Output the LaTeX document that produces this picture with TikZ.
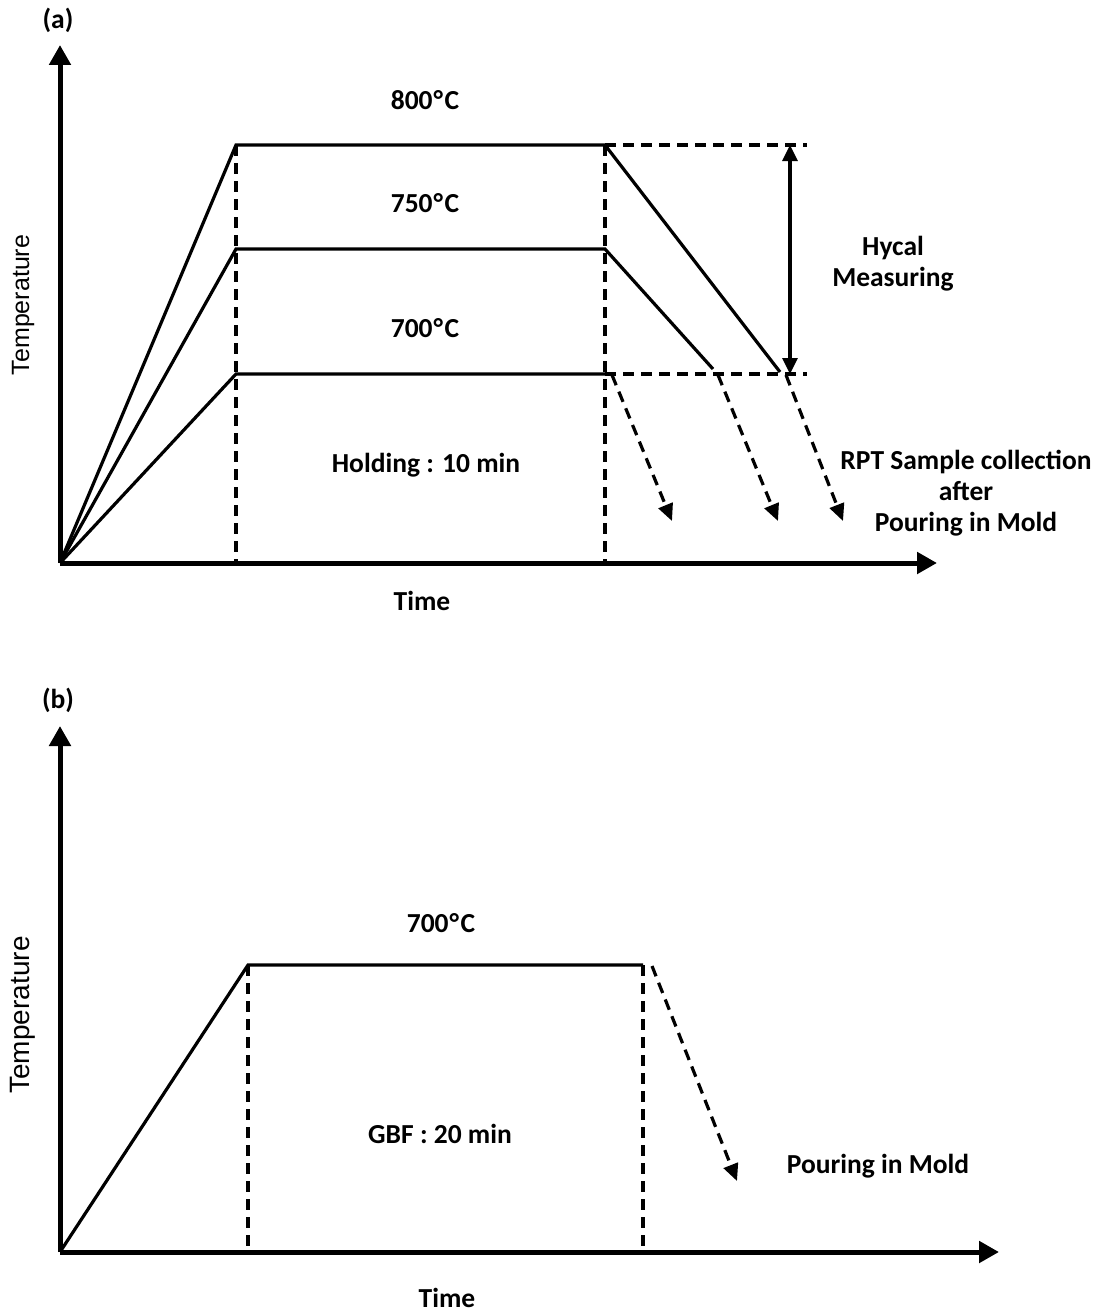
\documentclass[tikz,border=0pt]{standalone}
\usepackage{fontspec}
\setmainfont{Carlito}
\newfontfamily\arialf{Liberation Sans}
\usetikzlibrary{arrows.meta}
\newcommand{\degC}{\kern1pt°\kern1.5pt C}
\begin{document}
\begin{tikzpicture}[x=1pt,y=-1pt,
  axis/.style={line width=5pt,-{Triangle[length=20pt,width=21pt]}},
  curve/.style={line width=3.2pt},
  guide/.style={line width=3.2pt,dash pattern=on 11pt off 7pt},
  pour/.style={line width=3.2pt,dash pattern=on 11pt off 7pt,-{Triangle[length=17pt,width=15pt]}},
  measure/.style={line width=3.2pt,{Triangle[length=16pt,width=15pt]}-{Triangle[length=16pt,width=15pt]}},
  lbl/.style={font=\bfseries\fontsize{27.5}{32}\selectfont,inner sep=0pt,align=center},
  ylbl/.style={font=\arialf\fontsize{25}{30}\selectfont,inner sep=0pt,rotate=90}]
\useasboundingbox (0,0) rectangle (1105,1314);
% ---------- panel (a) ----------
\coordinate (Oa) at (60,563);
\coordinate (Ya) at (60,45);
\coordinate (Xa) at (937,563);
\coordinate (A1) at (236,145); \coordinate (A2) at (605,145);
\coordinate (B1) at (236,249); \coordinate (B2) at (605,249);
\coordinate (C1) at (236,374); \coordinate (C2) at (605,374);
\coordinate (A1b) at (236,563); \coordinate (A2b) at (605,563);
\coordinate (Ae) at (780,372); \coordinate (Be) at (713,369);
\coordinate (Hd) at (807,145); \coordinate (Ld) at (807,374);
\coordinate (Mt) at (790,145); \coordinate (Mb) at (790,374);
\coordinate (P1s) at (612,375); \coordinate (P1e) at (672,521);
\coordinate (P2s) at (718,375); \coordinate (P2e) at (778,521);
\coordinate (P3s) at (786,375); \coordinate (P3e) at (843,521);
\draw[guide] (A1) -- (A1b);
\draw[guide] (A2) -- (A2b);
\draw[guide] (A2) -- (Hd);
\draw[guide] (C2) -- (Ld);
\draw[curve] (Oa) -- (A1) -- (A2) -- (Ae);
\draw[curve] (Oa) -- (B1) -- (B2) -- (Be);
\draw[curve] (Oa) -- (C1) -- (C2);
\draw[measure] (Mt) -- (Mb);
\draw[pour] (P1s) -- (P1e);
\draw[pour] (P2s) -- (P2e);
\draw[pour] (P3s) -- (P3e);
\draw[axis] (Oa) -- (Ya);
\draw[axis] (Oa) -- (Xa);
\node[lbl] (lab_a) at (58,20) {(a)};
\node[lbl] (t800) at (425,100) {800\degC};
\node[lbl] (t750) at (425,203) {750\degC};
\node[lbl] (t700a) at (425,328) {700\degC};
\node[lbl] (hold) at (426,465) {Holding : 10 min};
\node[lbl] (hycal) at (893,264) {Hycal\\[-1pt]Measuring};
\node[lbl] (rpt) at (966,493) {RPT Sample collection\\[-1pt]after\\[-1pt]Pouring in Mold};
\node[lbl] (timea) at (422,601) {Time};
\node[ylbl] (tempa) at (23,305) {Temperature};
% ---------- panel (b) ----------
\coordinate (Ob) at (60,1252);
\coordinate (Yb) at (60,726);
\coordinate (Xb) at (999,1252);
\coordinate (D1) at (248,965); \coordinate (D2) at (643,965);
\coordinate (D1b) at (248,1252); \coordinate (D2b) at (643,1252);
\coordinate (Qs) at (652,966); \coordinate (Qe) at (737,1181);
\draw[guide] (D1) -- (D1b);
\draw[guide] (D2) -- (D2b);
\draw[curve] (Ob) -- (D1) -- (D2);
\draw[pour] (Qs) -- (Qe);
\draw[axis] (Ob) -- (Yb);
\draw[axis] (Ob) -- (Xb);
\node[lbl] (lab_b) at (58,700) {(b)};
\node[lbl] (t700b) at (441,923) {700\degC};
\node[lbl] (gbf) at (440,1134) {GBF : 20 min};
\node[lbl] (pourb) at (878,1166) {Pouring in Mold};
\node[lbl] (timeb) at (447,1298) {Time};
\node[ylbl,font=\arialf\fontsize{28}{32}\selectfont] (tempb) at (23,1015) {Temperature};
\end{tikzpicture}
\end{document}
